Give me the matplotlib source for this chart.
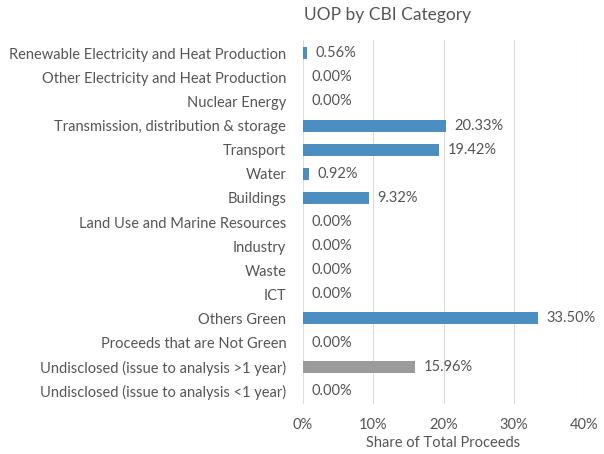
import matplotlib
matplotlib.use("Agg")
import matplotlib.pyplot as plt
from matplotlib.ticker import FuncFormatter

categories = [
    "Renewable Electricity and Heat Production",
    "Other Electricity and Heat Production",
    "Nuclear Energy",
    "Transmission, distribution & storage",
    "Transport",
    "Water",
    "Buildings",
    "Land Use and Marine Resources",
    "Industry",
    "Waste",
    "ICT",
    "Others Green",
    "Proceeds that are Not Green",
    "Undisclosed (issue to analysis >1 year)",
    "Undisclosed (issue to analysis <1 year)",
]
values = [0.56, 0.00, 0.00, 20.33, 19.42, 0.92, 9.32, 0.00, 0.00, 0.00, 0.00, 33.50, 0.00, 15.96, 0.00]
bar_colors = ["#4a8fc0"] * 13 + ["#9b9b9b", "#9b9b9b"]
x_ticks = [0, 10, 20, 30, 40]

plt.rcParams['font.family'] = ['Lato', 'DejaVu Sans']
txt = "#555555"
fs = 10.5

fig = plt.figure(figsize=(6.04, 4.54), dpi=100)
ax = fig.add_axes([0.5017, 0.110, 0.4653, 0.802])

y = list(range(len(categories)))
ax.barh(y, values, height=0.5, color=bar_colors, zorder=3)
for yi, v in zip(y, values):
    ax.text(v + 1.2, yi, f"{v:.2f}%", va="center", ha="left", fontsize=fs, color=txt, zorder=4)

ax.set_yticks(y)
ax.set_yticklabels(categories, fontsize=fs, color=txt)
ax.set_ylim(len(categories) - 0.45, -0.55)
ax.set_xlim(0, 40)
ax.set_xticks(x_ticks)
ax.xaxis.set_major_formatter(FuncFormatter(lambda v, p: f"{int(v)}%"))
ax.tick_params(axis="x", labelsize=fs, colors=txt, length=0, pad=10)
ax.tick_params(axis="y", length=0, pad=12)
ax.grid(axis="x", color="#dcdcdc", linewidth=0.8, zorder=0)
for s in ax.spines.values():
    s.set_visible(False)
ax.set_xlabel("Share of Total Proceeds", fontsize=fs, color=txt, labelpad=3)

fig.text(388 / 604, 1 - 15 / 454, "UOP by CBI Category", ha="center", va="center", fontsize=12.5, color=txt)

fig.savefig("out.png", dpi=100)
